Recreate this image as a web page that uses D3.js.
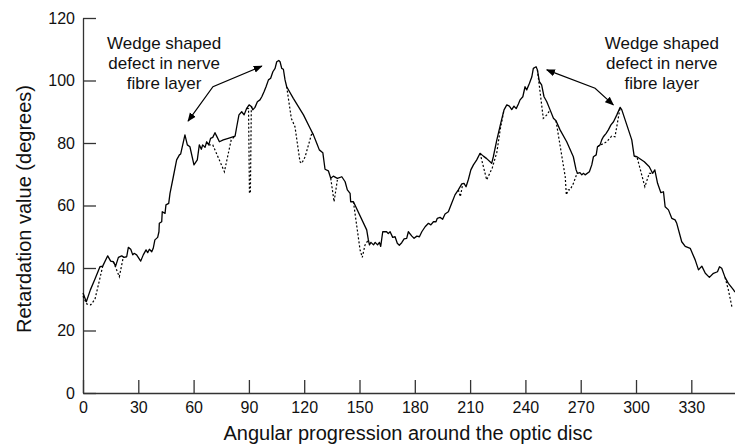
<!DOCTYPE html>
<html>
<head>
<meta charset="utf-8">
<script src="https://cdn.jsdelivr.net/npm/d3@7"></script>
<style>
  body { margin: 0; background: #fff; }
  svg { display: block; font-family: "Liberation Sans", Arial, Helvetica, sans-serif; }
  .axis path, .axis line { stroke: #333; stroke-width: 1.3; }
  .axis text { font-size: 16px; fill: #111; font-family: "Liberation Sans", Arial, sans-serif; }
  .solid { fill: none; stroke: #000; stroke-width: 1.3; stroke-linejoin: round; }
  .dotted { fill: none; stroke: #000; stroke-width: 1.2; stroke-dasharray: 2,2; }
  .arrow { fill: none; stroke: #000; stroke-width: 1.2; }
  .note { font-size: 17px; fill: #111; }
  .title { font-size: 20px; fill: #111; }
</style>
</head>
<body>
<div id="chart"></div>
<script>
// angular position (degrees) / retardation value for the solid trace
const solidAngle = [0,1.8,4,6.5,9.2,10.7,13.4,15,16.5,17.7,19.2,21,22.2,23.7,24.6,25.9,27,27.7,29.1,31.3,32.7,34.2,35.1,36,37.3,38.1,39,40.5,41.2,41.4,42.7,43,44.5,45,46.5,47.2,49,50.8,52.3,53,55.3,56.6,58,60.2,62,63.1,64.2,64.9,66.2,67.1,68.2,69.2,70.4,71.6,72.5,74,76.1,78.8,82.5,83.4,84.6,86.1,87.4,88.8,90.1,91.5,92.1,93.3,94.6,96,97,98.2,99.3,100.6,101.8,103,104.2,105.1,106.2,106.9,107.8,108.7,109.6,110.5,114.1,119.6,123.2,125,126.8,128.2,130.1,131.3,133.1,134.4,135.8,138,140.4,142.2,143.4,144.9,145.2,146.7,153.9,154.8,155.4,156.2,157.6,158.5,159.8,160.8,161.5,162.6,164.7,165.6,166.6,168,169.3,170.5,171.6,172.9,174.2,175.6,176.5,178.4,179.6,181.1,182.5,183.8,185.6,187.4,188.7,190.1,191.5,192.2,193.7,195.1,196.4,198.2,200,201.8,203.6,205.5,206.7,207.8,209.1,210.4,211.8,213.6,215.4,217.2,219,221.7,222.6,224.5,226.6,228.4,229.9,231.3,232.6,233.8,235,236.2,237.1,238.6,239.8,240.7,242.2,243.5,244.3,245.8,246.5,247.6,248.8,250.1,251.6,253.4,255.2,256.6,258.8,262.4,266,267.5,268.2,269.6,270.6,271.5,272.4,274.7,276,276.9,278.4,279.1,280.5,281.4,282.3,283.8,285,286.4,287.8,289.6,291.4,292.3,294.1,295.9,297.7,299,300.5,304.5,307.2,309,310.2,311.7,313.5,314.9,315.8,317.6,319.4,321.2,322.1,324.8,326.7,329.4,332.1,333.9,335.7,337.6,339.8,342,344.2,345.3,346.5,348.3,350.1,352.9,353.7];
const solidValue = [32,29.2,33,36.5,40.4,40.6,43.9,42.2,42,40.6,43.4,43.9,43.4,43.6,46.6,46,44.2,44.7,44.2,42.2,44.2,45.8,44.9,46,45.2,46.3,49,49.8,51.6,54.3,54.8,58,57.5,60.2,60.7,63.9,69.2,74.6,76.2,76.5,82.6,79.4,78.8,73,74.6,79.4,78,79.4,78.6,80.4,79.4,81.5,81.8,83.3,82.2,80.4,81,81.5,82.2,85.2,89,90,89,91.1,92.2,91.6,90.6,91.4,93.2,93.8,94.8,96.4,98,100.2,100.7,102.8,103.9,106,106.4,106,103.9,103.6,100.2,98,94.3,89,84.7,82.6,79.9,77.8,76.9,71.6,71.1,68.7,69.4,68.7,69.2,67.6,65,63.9,61.2,61.2,52.2,49,47.4,48.2,47.4,48.2,47.4,48.2,46.9,51.6,51.6,51,51.6,49.8,50,47.9,47.3,48.1,49.3,49.5,51.6,50.2,49.5,50.2,50,51.6,53.2,54.3,53.8,54.8,54.8,55.9,56.2,55.6,57.3,58,60.7,63.4,65,66.9,67.1,66,68.4,71.4,73,74.6,76.7,75.8,75,73.5,75.6,81,86.3,90.6,92.2,91.8,90.7,91.8,91,92.5,93.8,94.8,98,97,99.1,101.2,103.9,104.4,103.4,99.6,98.6,94.8,93.2,90.6,87.9,87.1,84.2,80.4,75.6,71.4,70.3,70.5,69.8,70.3,69.8,70.8,73,75.6,76.2,78.8,79.4,81,82,83.1,84.2,85.8,86.8,89,91.4,90.6,87.4,84.2,81,75.8,75.6,74,72.4,70.3,71.4,67.1,64.1,64.4,59.6,58.6,55.9,55.4,54.3,48.4,46.9,46.3,42.6,39.4,40.6,38.3,37,38.3,38.8,40.4,39.9,37,35.1,33,32.3];

// dotted trace, only where it leaves the solid one: [angle, value]
const dottedSegments = [
  [[0,31],[2,28.5],[4.2,28.2],[6.5,30],[8.5,35],[10.7,40.6]],
  [[16.5,42],[19.7,37.2],[21.9,43.6]],
  [[68.2,79.4],[70.4,79.4],[76.7,70.8],[80.4,81],[82.5,82.2]],
  [[88.8,91.1],[89.8,91],[90.3,64],[90.8,64],[91.3,91],[91.5,91.6]],
  [[110.5,98],[113,87.9],[115,85.2],[117.7,74],[118.7,73.5],[120.5,75.6],[124.1,83.1],[125,82.6]],
  [[134.4,68.7],[136.2,61.2],[138,68.2]],
  [[146.7,61.2],[150.3,45.8],[151.5,43.4],[153,47.4],[154.8,49]],
  [[203.6,65],[204.7,62.8],[206,66.9]],
  [[215.4,76.7],[219,68.2],[222,72],[224.5,77],[226.3,84.2],[228.4,90.6]],
  [[246.5,103.4],[249.7,87.9],[251.6,89],[253.4,90.6]],
  [[256.6,87.1],[261.6,69.2],[262.2,63.4],[263.2,65],[264.2,65],[266,67],[268,70.3]],
  [[279.1,78.8],[284.1,80.4],[286.8,82.2],[288.6,82],[291.4,91.4]],
  [[299,75.8],[300.5,75.6],[304.8,66],[307.2,70.3],[309,70.3]],
  [[348.3,37],[350.1,33],[352,27.6]]
];

const xTicks = [0,30,60,90,120,150,180,210,240,270,300,330];
const yTicks = [0,20,40,60,80,100,120];

const noteLines = ['Wedge shaped', 'defect in nerve', 'fibre layer'];
const notes = [{ angle: 44, value: 108 }, { angle: 314, value: 108 }];
// arrow polylines [angle, value]
const arrows = [
  [[57,87],[70.5,98],[97,104.6]],
  [[251.6,103.4],[277.8,97.5],[287.7,92.2]]
];

const width = 735, height = 444;
const margin = { top: 18, right: 0, bottom: 51, left: 83 };

let svg = d3.select('#chart').append('svg')
    .attr('width', width)
    .attr('height', height);

svg.append('defs').append('marker')
    .attr('id', 'head')
    .attr('viewBox', '0 0 10 10')
    .attr('refX', 9).attr('refY', 5)
    .attr('markerWidth', 9).attr('markerHeight', 9)
    .attr('markerUnits', 'userSpaceOnUse')
    .attr('orient', 'auto-start-reverse')
  .append('path')
    .attr('d', 'M0,1 L10,5 L0,9 Z')
    .attr('fill', '#000');

let x = d3.scaleLinear().domain([0, 353.7]).range([margin.left, width - margin.right]);
let y = d3.scaleLinear().domain([0, 120]).range([height - margin.bottom, margin.top]);

svg.append('g')
    .attr('class', 'axis')
    .attr('transform', `translate(0,${height - margin.bottom})`)
    .call(d3.axisBottom(x).tickValues(xTicks).tickSizeInner(-13).tickSizeOuter(0).tickPadding(9));

svg.append('g')
    .attr('class', 'axis')
    .attr('transform', `translate(${margin.left},0)`)
    .call(d3.axisLeft(y).tickValues(yTicks).tickSizeInner(-13).tickSizeOuter(0).tickPadding(8));

let line = d3.line().x(d => x(d[0])).y(d => y(d[1]));

svg.selectAll('path.dotted').data(dottedSegments)
    .join('path')
    .attr('class', 'dotted')
    .attr('d', line);

let solid = solidAngle.map((a, i) => [a, solidValue[i]]);
svg.append('path').datum(solid)
    .attr('class', 'solid')
    .attr('d', line);

svg.selectAll('path.arrow').data(arrows)
    .join('path')
    .attr('class', 'arrow')
    .attr('d', line)
    .attr('marker-start', 'url(#head)')
    .attr('marker-end', 'url(#head)');

notes.forEach(n => {
  let t = svg.append('text')
      .attr('class', 'note')
      .attr('text-anchor', 'middle')
      .attr('x', x(n.angle))
      .attr('y', 49);
  noteLines.forEach((s, i) => {
    t.append('tspan').attr('x', x(n.angle)).attr('y', 49 + i * 20).text(s);
  });
});

svg.append('text')
    .attr('class', 'title')
    .attr('text-anchor', 'middle')
    .attr('x', 408)
    .attr('y', 440)
    .text('Angular progression around the optic disc');

svg.append('text')
    .attr('class', 'title')
    .attr('text-anchor', 'middle')
    .attr('transform', 'translate(31,209) rotate(-90)')
    .text('Retardation value (degrees)');
</script>
</body>
</html>
